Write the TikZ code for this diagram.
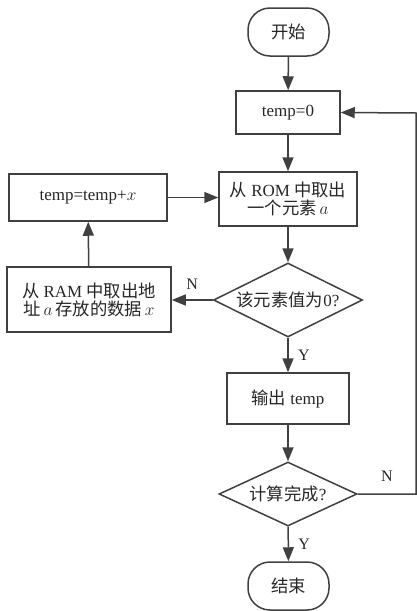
\documentclass[tikz,border=0pt]{standalone}
\usepackage{fontspec}
\setmainfont{Liberation Serif}
\newfontfamily\cjk{Noto Sans CJK SC}[Scale=1.02]
\usetikzlibrary{arrows.meta,shapes.geometric}
\begin{document}
\begin{tikzpicture}[x=1pt,y=-1pt,
  every node/.style={font=\fontsize{17}{21}\selectfont, text=black!85},
  line/.style={draw=black!75, line width=1.5pt},
  arr/.style={line, -{Triangle[width=11pt,length=14pt]}},
  term/.style={line, rounded corners=22pt, minimum width=81pt, minimum height=48pt, inner sep=0pt},
  proc/.style={line, rectangle, inner sep=0pt, align=center},
  dec/.style={line, diamond, aspect=2, inner sep=0pt},
  lbl/.style={font=\fontsize{16}{19}\selectfont}]
\useasboundingbox (0,0) rectangle (417,611);
\node[term] (start) at (288.5,32) {\cjk 开始};
\node[proc, minimum width=104pt, minimum height=43pt] (init) at (288,112.5) {temp=0};
\node[proc, minimum width=138pt, minimum height=54pt] (rom) at (288,199) {{\cjk 从} ROM {\cjk 中取出}\\[-3pt]{\cjk 一个元素}\,$a$};
\node[proc, minimum width=158pt, minimum height=47pt] (add) at (88,197.5) {temp=temp+$x$};
\node[dec, minimum width=149pt, minimum height=74pt] (d1) at (288,300) {{\cjk 该元素值为}0?};
\node[proc, minimum width=164pt, minimum height=65pt] (ram) at (89,299.5) {{\cjk 从} RAM {\cjk 中取出地}\\[-3pt]{\cjk 址}\,$a$\,{\cjk 存放的数据}\,$x$};
\node[proc, minimum width=122pt, minimum height=51pt] (out) at (288,398.5) {{\cjk 输出} temp};
\node[dec, minimum width=138pt, minimum height=64pt] (d2) at (288,494) {{\cjk 计算完成}?};
\node[term] (stop) at (288.5,586) {\cjk 结束};
\coordinate (c1) at (416,494);
\coordinate (c2) at (416,113);
\draw[arr] (start) -- (init);
\draw[arr] (init) -- (rom);
\draw[arr] (rom) -- (d1);
\draw[arr] (add.east) -- (rom.west |- add.east);
\draw[arr] (ram) -- (add);
\draw[arr] (d1.west) -- (ram.east |- d1.west) node[lbl, midway, above=6pt] {N};
\draw[arr] (d1) -- (out) node[lbl, midway, right=6pt] {Y};
\draw[arr] (out) -- (d2);
\draw[arr] (d2) -- (stop) node[lbl, midway, right=6pt] {Y};
\draw[arr] (d2.east) -- (c1) -- (c2) -- (init.east);
\node[lbl] (nlab) at (387,476) {N};
\end{tikzpicture}
\end{document}
